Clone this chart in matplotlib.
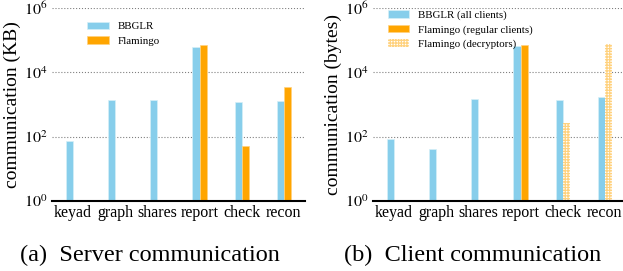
import matplotlib
matplotlib.use("Agg")
import matplotlib.pyplot as plt
import numpy as np

plt.rcParams['font.family'] = ['Liberation Serif', 'DejaVu Serif']
plt.rcParams['mathtext.fontset'] = 'stix'
plt.rcParams['hatch.linewidth'] = 0.9

categories = ["keyad", "graph", "shares", "report", "check", "recon"]

# Server communication (KB)
server_bbglr = [73, 1400, 1370, 63000, 1200, 1270]
server_flamingo = [np.nan, np.nan, np.nan, 70000, 52, 3550]

# Client communication (bytes)
client_bbglr = [85, 40, 1470, 65000, 1400, 1660]
client_flamingo_regular = [np.nan, np.nan, np.nan, 71000, np.nan, np.nan]
client_flamingo_decryptors = [np.nan, np.nan, np.nan, np.nan, 262, 77000]

blue = '#87CEEB'
orange = '#FFA500'

fig = plt.figure(figsize=(6.23, 2.71), dpi=100)
W, H = 623, 271
w = 0.17


def setup(ax, ylabel):
    ax.set_yscale('log')
    ax.set_ylim(1, 1e6)
    ax.set_yticks([1, 1e2, 1e4, 1e6])
    ax.set_yticklabels([r'$10^{0}$', r'$10^{2}$', r'$10^{4}$', r'$10^{6}$'])
    ax.minorticks_off()
    ax.set_xlim(-0.5, 5.5)
    ax.set_xticks(np.arange(len(categories)))
    ax.set_xticklabels(categories)
    ax.tick_params(axis='both', length=0, labelsize=11.5, pad=3)
    for s in ['left', 'top', 'right']:
        ax.spines[s].set_visible(False)
    ax.spines['bottom'].set_linewidth(1.5)
    ax.yaxis.grid(True, linestyle=':', color='gray', linewidth=0.8)
    ax.set_axisbelow(True)
    ax.set_ylabel(ylabel, fontsize=14, labelpad=2)


x = np.arange(len(categories))

ax1 = fig.add_axes([52 / W, 70 / H, 253 / W, 193 / H])
ax1.bar(x - w / 2, server_bbglr, w, color=blue, edgecolor='#d6f0f8', linewidth=0.5, label='BBGLR')
ax1.bar(x + w / 2, server_flamingo, w, color=orange, edgecolor='#ffd27f', linewidth=0.5, label='Flamingo')
setup(ax1, 'communication (KB)')
ax1.legend(loc='upper left', bbox_to_anchor=(0.1, 0.98), frameon=False, fontsize=7.8,
           handlelength=2.0, labelspacing=0.45)

ax2 = fig.add_axes([373 / W, 70 / H, 253 / W, 193 / H])
ax2.bar(x - w / 2, client_bbglr, w, color=blue, edgecolor='#d6f0f8', linewidth=0.5,
        label='BBGLR (all clients)')
ax2.bar(x + w / 2, client_flamingo_regular, w, color=orange, edgecolor='#ffd27f', linewidth=0.5,
        label='Flamingo (regular clients)')
ax2.bar(x + w / 2, client_flamingo_decryptors, w, facecolor='white', edgecolor='#FFD27F',
        linewidth=0, hatch='++++++', label='Flamingo (decryptors)')
setup(ax2, 'communication (bytes)')
ax2.legend(loc='upper left', bbox_to_anchor=(0.02, 1.04), frameon=False, fontsize=7.8,
           handlelength=2.0, labelspacing=0.45)

fig.text(150 / W, 1 - 255 / H, '(a)  Server communication', ha='center', va='center', fontsize=17.5)
fig.text(473 / W, 1 - 255 / H, '(b)  Client communication', ha='center', va='center', fontsize=17.5)

fig.savefig('out.png', dpi=100)
